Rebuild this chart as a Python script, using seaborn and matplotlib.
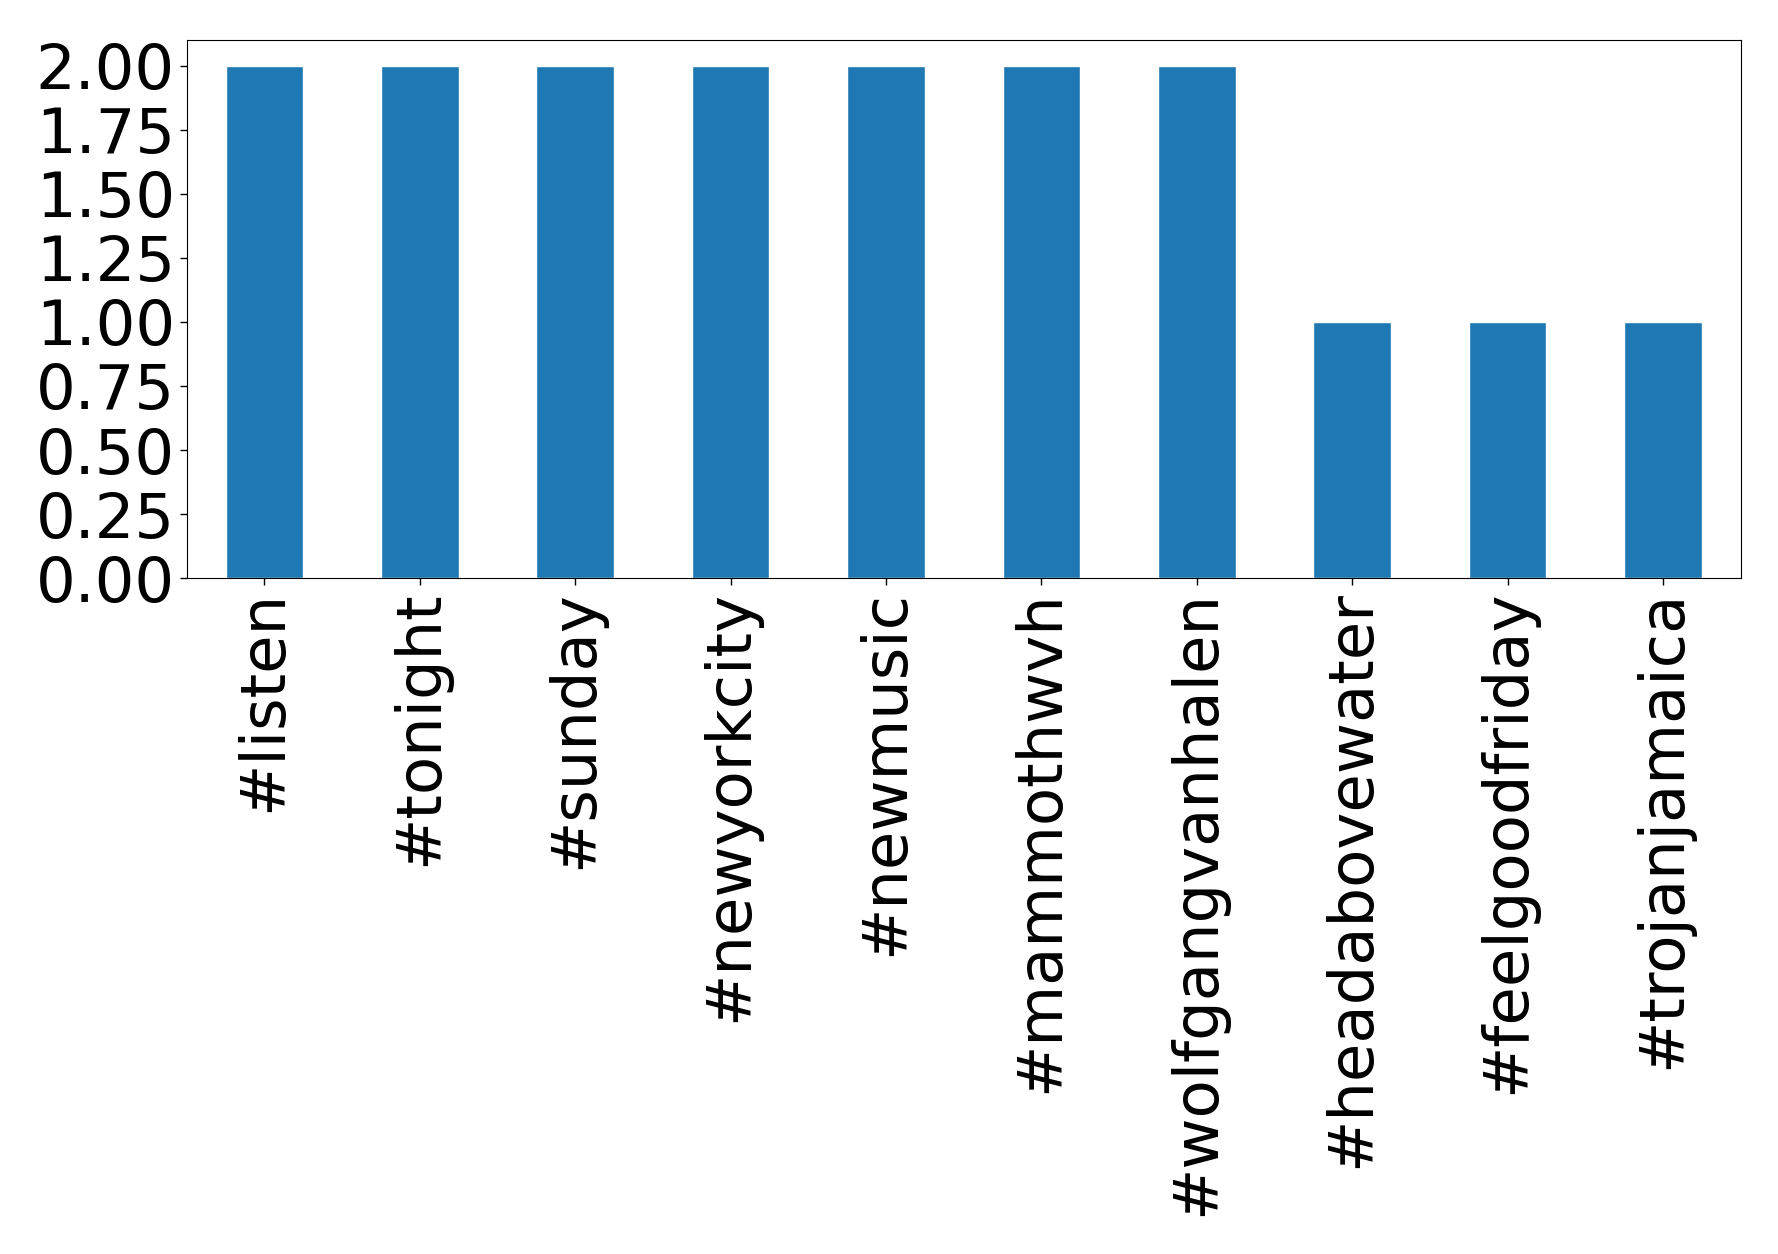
import matplotlib
matplotlib.use("Agg")
import matplotlib.pyplot as plt
import seaborn as sns
import pandas as pd

# hashtag counts
hashtags = ["#listen", "#tonight", "#sunday", "#newyorkcity", "#newmusic",
            "#mammothwvh", "#wolfgangvanhalen", "#headabovewater",
            "#feelgoodfriday", "#trojanjamaica"]
counts = [2, 2, 2, 2, 2, 2, 2, 1, 1, 1]

df = pd.DataFrame({"hashtag": hashtags, "count": counts})

sns.set_style("white")
plt.rcParams['font.family'] = ['DejaVu Sans']

fig, ax = plt.subplots(figsize=(17.78, 12.54), dpi=100)
sns.barplot(data=df, x="hashtag", y="count", color="#1f77b4",
            saturation=1, width=0.5, ax=ax)
ax.set_xlim(-0.5, len(hashtags) - 0.5)
ax.set_xlabel("")
ax.set_ylabel("")
ax.set_yticks([0, 0.25, 0.5, 0.75, 1.0, 1.25, 1.5, 1.75, 2.0])
ax.set_yticklabels([f"{v:.2f}" for v in ax.get_yticks()])
ax.tick_params(axis="both", labelsize=45, length=5, width=1, left=True, bottom=True,
               colors="black", labelcolor="black")
plt.setp(ax.get_xticklabels(), rotation=90)
for s in ax.spines.values():
    s.set_color("black")
    s.set_linewidth(0.8)

fig.subplots_adjust(left=0.105, right=0.979, top=0.968, bottom=0.539)
fig.savefig("out.png", dpi=100)
